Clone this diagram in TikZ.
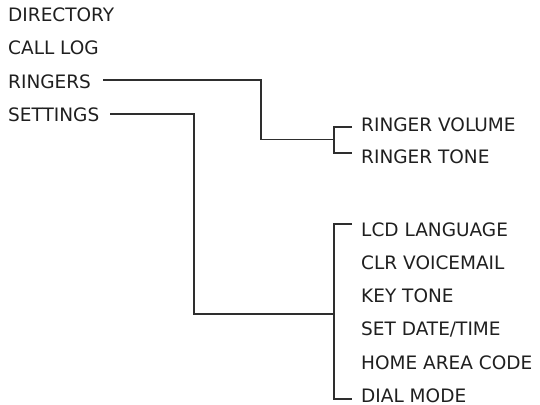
\documentclass[tikz,border=0pt]{standalone}
\usepackage{fontspec}
\setmainfont{DejaVu Sans}
\begin{document}
\begin{tikzpicture}[x=1pt,y=-1pt,
  lbl/.style={anchor=base west,inner sep=0pt,text=black!88,font=\fontsize{18.5}{20}\selectfont},
  conn/.style={draw=black!82,line width=1.8pt}]
\useasboundingbox (0,0) rectangle (540,404);
% left menu
\node[lbl] (dir)  at (8,22)   {DIRECTORY};
\node[lbl] (log)  at (8,55)   {CALL LOG};
\node[lbl] (ring) at (8,88)   {RINGERS};
\node[lbl] (set)  at (8,121)  {SETTINGS};
% ringer submenu
\node[lbl] (rv) at (361,131) {RINGER VOLUME};
\node[lbl] (rt) at (361,163) {RINGER TONE};
% settings submenu
\node[lbl] (lcd)  at (361,236)   {LCD LANGUAGE};
\node[lbl] (clr)  at (361,269.3) {CLR VOICEMAIL};
\node[lbl] (key)  at (361,302.6) {KEY TONE};
\node[lbl] (sdt)  at (361,335.9) {SET DATE/TIME};
\node[lbl] (home) at (361,369.2) {HOME AREA CODE};
\node[lbl] (dial) at (361,402.5) {DIAL MODE};
% junction points
\coordinate (r0) at (103,80);
\coordinate (rj) at (334,139.5);
\coordinate (s0) at (110,114);
\coordinate (sj) at (334,314);
% ringers connector
\draw[conn] (r0) -| (261,139.5) -- (rj);
\draw[conn] ([xshift=-9pt]rv.west |- 0,127) -- (334,127) -- (334,153) -- ([xshift=-9pt]rt.west |- 0,153);
% settings connector
\draw[conn] (s0) -| (194,314) -- (sj);
\draw[conn] ([xshift=-9pt]lcd.west |- 0,224) -- (334,224) -- (334,399) -- ([xshift=-9pt]dial.west |- 0,399);
\end{tikzpicture}
\end{document}
